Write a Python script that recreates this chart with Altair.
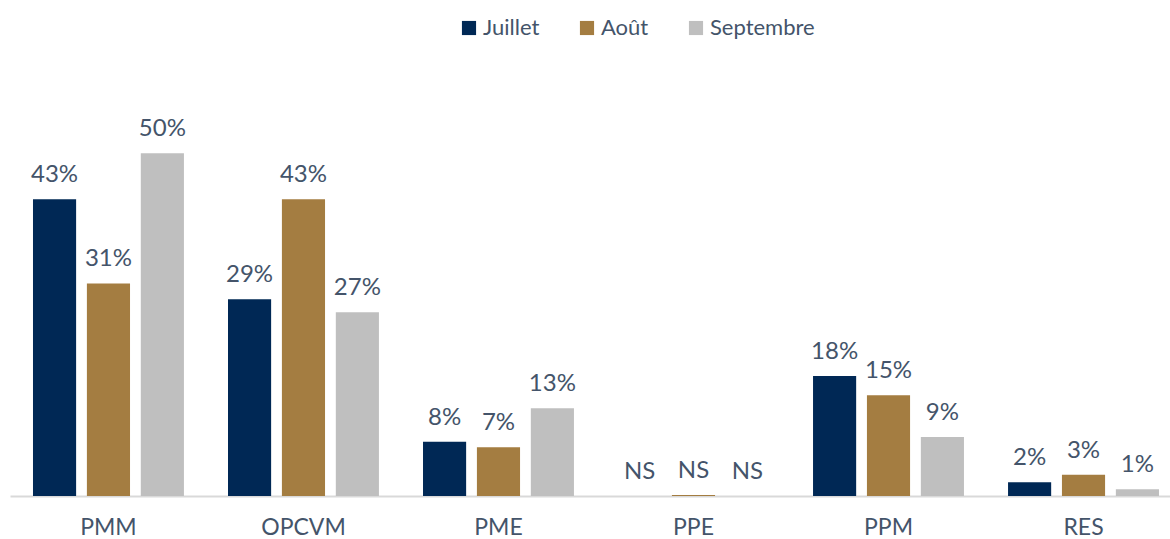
import altair as alt
import pandas as pd

categories = ["PMM", "OPCVM", "PME", "PPE", "PPM", "RES"]
series = ["Juillet", "Août", "Septembre"]
colors = ["#002855", "#a47d41", "#bfbfbf"]

juillet = [43.3, 28.7, 7.9, 0.0, 17.5, 2.0]
aout = [31.0, 43.3, 7.1, 0.15, 14.7, 3.1]
septembre = [50.0, 26.8, 12.8, 0.0, 8.6, 1.0]

juillet_lbl = ["43%", "29%", "8%", "NS", "18%", "2%"]
aout_lbl = ["31%", "43%", "7%", "NS", "15%", "3%"]
septembre_lbl = ["50%", "27%", "13%", "NS", "9%", "1%"]

rows = []
for s, vals, lbls in zip(series, [juillet, aout, septembre], [juillet_lbl, aout_lbl, septembre_lbl]):
    for c, v, l in zip(categories, vals, lbls):
        rows.append({"cat": c, "series": s, "value": v, "label": l})
df = pd.DataFrame(rows)

FONT = "Lato"
TXT = "#44546a"

base = alt.Chart(df).encode(
    x=alt.X(
        "cat:N",
        sort=categories,
        title=None,
        scale=alt.Scale(paddingInner=0.226, paddingOuter=0.0872, align=0.676),
        axis=alt.Axis(
            labelAngle=0,
            labelFont=FONT,
            labelFontSize=23,
            labelColor=TXT,
            labelPadding=20,
            ticks=False,
            domainColor="#d9d9d9",
            domainWidth=2,
        ),
    ),
    xOffset=alt.XOffset(
        "series:N", sort=series, scale=alt.Scale(paddingInner=0.2, paddingOuter=0)
    ),
    y=alt.Y("value:Q", scale=alt.Scale(domain=[0, 63.6]), axis=None),
)

bars = base.mark_bar().encode(
    color=alt.Color(
        "series:N",
        sort=series,
        scale=alt.Scale(domain=series, range=colors),
        legend=alt.Legend(
            title=None,
            orient="none",
            direction="horizontal",
            legendX=448,
            legendY=-43,
            symbolType="square",
            symbolSize=200,
            symbolStrokeWidth=0,
            labelFont=FONT,
            labelFontSize=22,
            labelColor=TXT,
            labelOffset=3,
            columnPadding=36,
        ),
    )
)

texts = base.mark_text(
    baseline="bottom", dy=-12, font=FONT, fontSize=24, color=TXT
).encode(text="label:N")

chart = (
    alt.layer(bars, texts)
    .properties(
        width=1160,
        height=436,
        autosize=alt.AutoSizeParams(type="none"),
        padding={"left": 10, "top": 60, "right": 0, "bottom": 43},
    )
    .configure_view(stroke=None)
)

chart.save("out.html", embed_options={"renderer": "svg", "actions": False})
